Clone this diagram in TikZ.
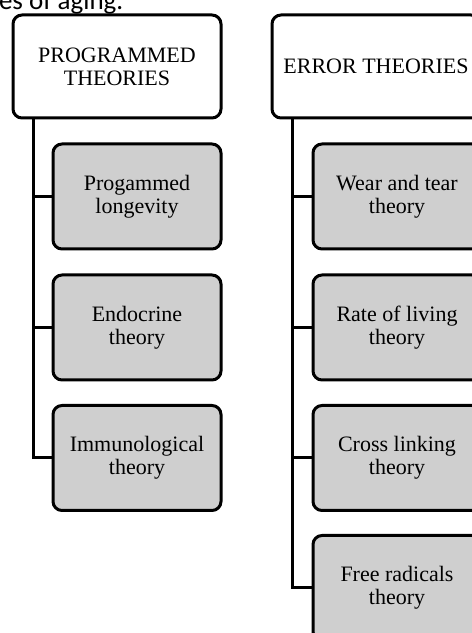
\documentclass[tikz,border=0pt]{standalone}
\usepackage{fontspec}
\setmainfont{Liberation Serif}
\newfontfamily\calib{Carlito}
\definecolor{boxgray}{RGB}{207,207,207}
\begin{document}
\begin{tikzpicture}[x=1pt,y=1pt,
  every node/.style={inner sep=0pt, outer sep=0pt},
  hdr/.style={draw=black, line width=3pt, rounded corners=9pt, fill=white,
    minimum width=208pt, minimum height=103pt, align=center,
    font=\fontsize{22}{23}\selectfont},
  sub/.style={draw=black, line width=3pt, rounded corners=9pt, fill=boxgray,
    minimum width=168pt, minimum height=105pt, align=center,
    font=\fontsize{22}{23}\selectfont},
  conn/.style={draw=black, line width=3pt, line join=miter}]
\clip (0,0) rectangle (472,633);
\fill[white] (0,0) rectangle (472,633);
\node[anchor=base west, font=\calib\fontsize{27}{30}\selectfont] (title) at (-1,623) {es of aging.};
% left column
\node[hdr] (hl) at (117,566.5) {PROGRAMMED\\THEORIES};
\node[sub] (p1) at (137,436.5) {Progammed\\longevity};
\node[sub] (p2) at (137,305.5) {Endocrine\\theory};
\node[sub] (p3) at (137,175) {Immunological\\theory};
% right column
\node[hdr] (hr) at (376,566.5) {ERROR THEORIES};
\node[sub] (e1) at (397,436.5) {Wear and tear\\theory};
\node[sub] (e2) at (397,305.5) {Rate of living\\theory};
\node[sub] (e3) at (397,175) {Cross linking\\theory};
\node[sub] (e4) at (397,45) {Free radicals\\theory};
% connectors
\draw[conn] ([xshift=20pt]hl.south west) |- (p3.west);
\draw[conn] (p1.west) -- ++(-20pt,0);
\draw[conn] (p2.west) -- ++(-20pt,0);
\draw[conn] ([xshift=20pt]hr.south west) |- (e4.west);
\draw[conn] (e1.west) -- ++(-21pt,0);
\draw[conn] (e2.west) -- ++(-21pt,0);
\draw[conn] (e3.west) -- ++(-21pt,0);
\end{tikzpicture}
\end{document}
